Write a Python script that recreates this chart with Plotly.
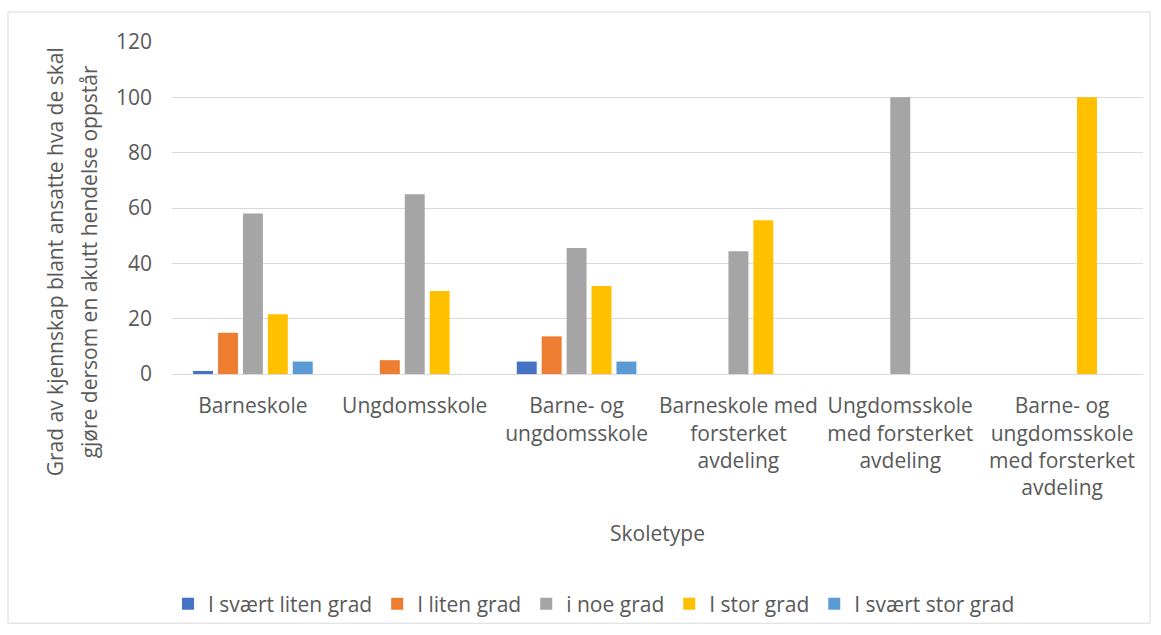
import plotly.graph_objects as go

# Skoletyper (kategorier på x-aksen)
skoletyper = [
    "Barneskole",
    "Ungdomsskole",
    "Barne- og<br>ungdomsskole",
    "Barneskole med<br>forsterket<br>avdeling",
    "Ungdomsskole<br>med forsterket<br>avdeling",
    "Barne- og<br>ungdomsskole<br>med forsterket<br>avdeling",
]

# Andel (%) per svarkategori
svaert_liten = [1.1, 0, 4.5, 0, 0, 0]
liten = [14.9, 5.0, 13.6, 0, 0, 0]
noe = [58.0, 65.0, 45.5, 44.4, 100, 0]
stor = [21.6, 30.0, 31.8, 55.6, 0, 100]
svaert_stor = [4.5, 0, 4.5, 0, 0, 0]

serier = [
    ("I svært liten grad", svaert_liten, "#4472C4"),
    ("I liten grad", liten, "#ED7D31"),
    ("i noe grad", noe, "#A5A5A5"),
    ("I stor grad", stor, "#FFC000"),
    ("I svært stor grad", svaert_stor, "#5B9BD5"),
]

y_ticks = [0, 20, 40, 60, 80, 100, 120]
y_tittel = ["Grad av kjennskap blant ansatte hva de skal",
            "gjøre dersom en akutt hendelse oppstår"]

FONT = "Open Sans"
TXT = "#595959"
GRID = "#D9D9D9"
FS = 21

fig = go.Figure()
for navn, verdier, farge in serier:
    fig.add_trace(go.Bar(
        name=navn, x=skoletyper, y=verdier,
        marker=dict(color=farge, line=dict(width=0)),
    ))

W, H = 1161, 635
L, R, T, B = 172, 18, 42, 260
pw, ph = W - L - R, H - T - B

def px_x(p):
    return (p - L) / pw

def px_y(p):
    return (H - B - p) / ph

# y-aksetittel, én annotasjon per linje
tittel_ann = [
    dict(text=linje, xref="paper", yref="paper", x=px_x(xc), y=px_y(263),
         xanchor="center", yanchor="middle", textangle=-90, showarrow=False,
         font=dict(size=FS, color=TXT))
    for linje, xc in zip(y_tittel, [55, 89])
]

fig.update_layout(
    width=W, height=H,
    margin=dict(l=L, r=R, t=T, b=B),
    paper_bgcolor="white", plot_bgcolor="white",
    barmode="group", bargap=0.23, bargroupgap=0.2,
    font=dict(family=FONT, color=TXT, size=FS),
    showlegend=True,
    legend=dict(
        orientation="h", x=px_x(594), xanchor="center",
        y=px_y(604), yanchor="middle",
        font=dict(size=FS, color=TXT), bgcolor="rgba(0,0,0,0)",
    ),
    xaxis=dict(
        showgrid=False, showline=True, linecolor=GRID, linewidth=1,
        ticks="", tickfont=dict(size=FS, color=TXT),
        ticklabelstandoff=13,
        title=dict(text="Skoletype", font=dict(size=FS, color=TXT), standoff=26),
    ),
    yaxis=dict(
        range=[0, 120], tickvals=y_ticks, showgrid=True, gridcolor=GRID,
        gridwidth=1, zeroline=False, showline=False, ticks="",
        tickfont=dict(size=FS, color=TXT), ticklabelstandoff=19,
    ),
    shapes=[dict(
        type="rect", xref="paper", yref="paper",
        x0=px_x(8), x1=px_x(1150), y0=px_y(625), y1=px_y(12),
        line=dict(color=GRID, width=1), fillcolor="rgba(0,0,0,0)", layer="below",
    )],
    annotations=tittel_ann,
)

fig.write_html("out.html")
